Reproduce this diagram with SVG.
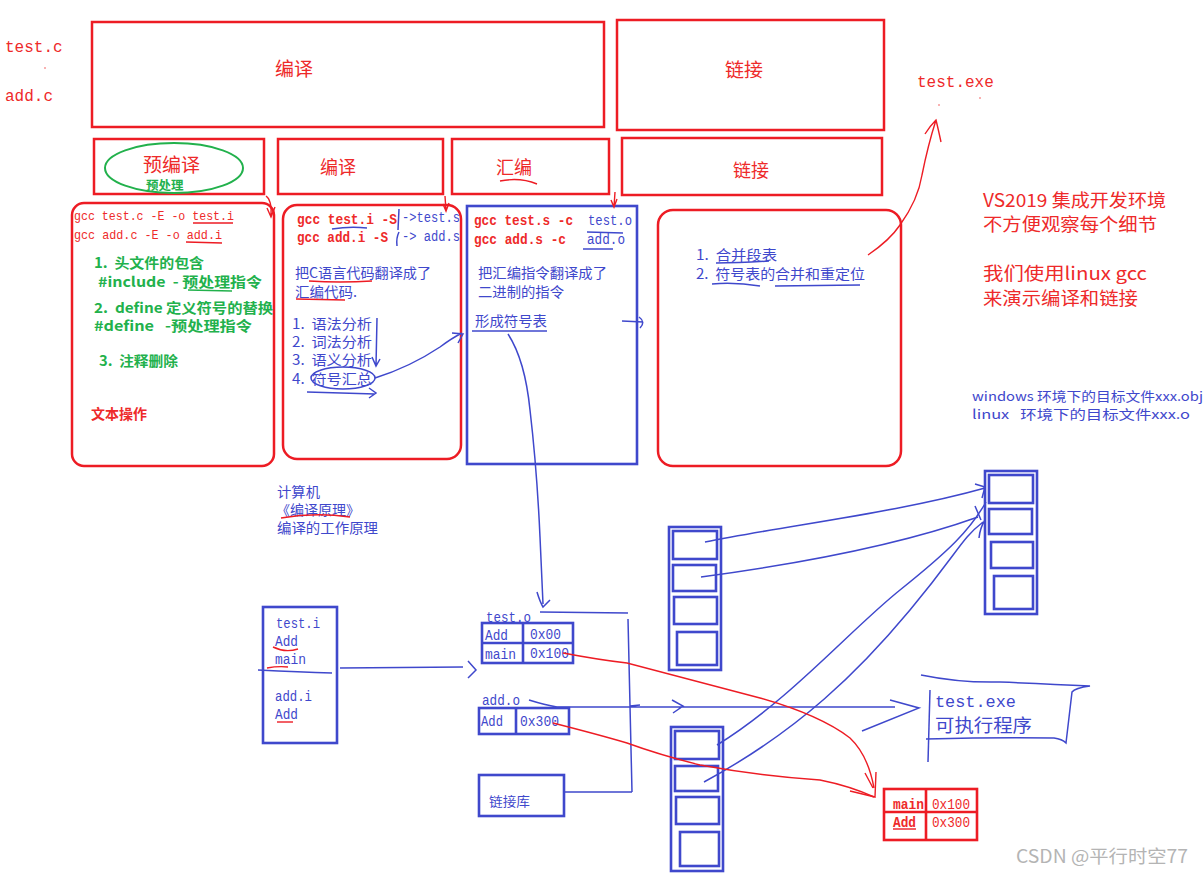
<svg xmlns="http://www.w3.org/2000/svg" width="1204" height="875" viewBox="0 0 1204 875">
<style>
.r{stroke:#ed1c24;fill:none;stroke-width:2.5}
.rt{stroke:#ed1c24;fill:none;stroke-width:1.4}
.b{stroke:#3f48cc;fill:none;stroke-width:2.6}
.bt{stroke:#3f48cc;fill:none;stroke-width:1.5}
.gt{stroke:#22b14c;fill:none;stroke-width:1.5}
text{font-family:"Noto Sans CJK SC",sans-serif;white-space:pre}
.m{font-family:"Liberation Mono","Noto Sans CJK SC",monospace}
.tr{fill:#ee2a2a}
.tb{fill:#3f48cc}
.tg{fill:#22b14c;font-weight:bold}
</style>
<rect width="1204" height="875" fill="#fff"/>

<g id="inputs">
<text class="m tr" x="5" y="52" font-size="16">test.c</text>
<circle cx="45" cy="68" r="0.7" fill="#ee2a2a"/>
<text class="m tr" x="5" y="101" font-size="16">add.c</text>
</g>

<g id="stage-compile">
<rect class="r" x="92" y="22" width="512" height="105"/>
<text class="tr" x="275" y="76" font-size="19">编译</text>
</g>
<g id="stage-link">
<rect class="r" x="617" y="20" width="267" height="110"/>
<text class="tr" x="725" y="77" font-size="19">链接</text>
</g>
<g id="exe-top">
<text class="m tr" x="917" y="87" font-size="16">test.exe</text>
<circle cx="939" cy="105" r="0.7" fill="#ee2a2a"/>
<circle cx="980" cy="98" r="0.7" fill="#ee2a2a"/>
</g>

<g id="pre">
<rect class="r" x="94" y="139" width="170" height="55"/>
<ellipse cx="174" cy="168" rx="69" ry="25" fill="none" stroke="#22b14c" stroke-width="2"/>
<text class="tr" x="143" y="172" font-size="19">预编译</text>
<text class="tg" x="146" y="190" font-size="12.5">预处理</text>
</g>
<g id="comp">
<rect class="r" x="278" y="139" width="165" height="55"/>
<text class="tr" x="320" y="174" font-size="18">编译</text>
</g>
<g id="asm">
<rect class="r" x="452" y="139" width="157" height="55"/>
<text class="tr" x="496" y="174" font-size="18">汇编</text>
<path class="rt" d="M500,181 Q520,177 537,184"/>
</g>
<g id="lnk">
<rect class="r" x="622" y="138" width="260" height="57"/>
<text class="tr" x="733" y="177" font-size="18">链接</text>
</g>

<g id="box-pre">
<rect class="r" x="72" y="203" width="202" height="263" rx="12"/>
<text class="m tr" x="74" y="220" font-size="13" textLength="160" lengthAdjust="spacingAndGlyphs">gcc test.c -E -o test.i</text>
<text class="m tr" x="74" y="239" font-size="13" textLength="148" lengthAdjust="spacingAndGlyphs">gcc add.c -E -o add.i</text>
<path class="rt" d="M193,223 L233,223 M186,242 L222,243"/>
<text class="tg" x="94" y="268" font-size="14" textLength="110" lengthAdjust="spacingAndGlyphs" xml:space="preserve">1.  头文件的包含</text>
<text class="tg" x="98" y="287" font-size="14" textLength="164" lengthAdjust="spacingAndGlyphs" xml:space="preserve">#include  - 预处理指令</text>
<path class="gt" d="M188,290 L232,291"/>
<text class="tg" x="94" y="313" font-size="14" textLength="179" lengthAdjust="spacingAndGlyphs" xml:space="preserve">2.  define 定义符号的替换</text>
<text class="tg" x="94" y="331" font-size="14" textLength="158" lengthAdjust="spacingAndGlyphs" xml:space="preserve">#define   -预处理指令</text>
<text class="tg" x="99" y="366" font-size="14" textLength="79" lengthAdjust="spacingAndGlyphs" xml:space="preserve">3.  注释删除</text>
<text x="91" y="419" font-size="14" font-weight="bold" fill="#ee2a2a" textLength="56" lengthAdjust="spacingAndGlyphs">文本操作</text>
</g>

<g id="box-comp">
<rect class="r" x="283" y="205" width="178" height="254" rx="14"/>
<text class="m tr" x="297" y="224" font-size="14" font-weight="bold" textLength="100" lengthAdjust="spacingAndGlyphs">gcc test.i -S</text>
<text class="m tr" x="297" y="242" font-size="14" font-weight="bold" textLength="91" lengthAdjust="spacingAndGlyphs">gcc add.i -S</text>
<path class="bt" d="M332,229 Q350,226 367,228"/>
<path class="bt" d="M399,209 L398,230 M399,232 Q396,238 397,246"/>
<text class="m tb" x="402" y="222" font-size="14" textLength="58" lengthAdjust="spacingAndGlyphs">-&gt;test.s</text>
<text class="m tb" x="402" y="241" font-size="14" textLength="58" lengthAdjust="spacingAndGlyphs" xml:space="preserve">-&gt; add.s</text>
<text class="tb" x="295" y="278" font-size="14" textLength="136" lengthAdjust="spacingAndGlyphs">把C语言代码翻译成了</text>
<path class="rt" d="M309,281 Q340,283 372,281"/>
<text class="tb" x="295" y="297" font-size="14" textLength="62" lengthAdjust="spacingAndGlyphs">汇编代码.</text>
<path class="rt" d="M296,299 L345,300"/>
<text class="tb" x="292" y="329" font-size="14" textLength="80" lengthAdjust="spacingAndGlyphs" xml:space="preserve">1.  语法分析</text>
<text class="tb" x="292" y="347" font-size="14" textLength="80" lengthAdjust="spacingAndGlyphs" xml:space="preserve">2.  词法分析</text>
<text class="tb" x="292" y="365" font-size="14" textLength="80" lengthAdjust="spacingAndGlyphs" xml:space="preserve">3.  语义分析</text>
<text class="tb" x="292" y="384" font-size="14" textLength="80" lengthAdjust="spacingAndGlyphs" xml:space="preserve">4.  符号汇总</text>
<ellipse cx="343" cy="378" rx="32" ry="11" class="bt" stroke-width="2"/>
<path class="bt" d="M377,318 L376,366 M372,357 L376,366 L380,359"/>
<path class="bt" d="M307,392 L375,394 M369,388 L376,393 L369,398"/>
</g>

<g id="box-asm">
<rect class="b" x="467" y="206" width="170" height="258"/>
<text class="m tr" x="474" y="225" font-size="14" font-weight="bold" textLength="99" lengthAdjust="spacingAndGlyphs">gcc test.s -c</text>
<text class="m tb" x="588" y="225" font-size="14" textLength="44" lengthAdjust="spacingAndGlyphs">test.o</text>
<path class="bt" d="M587,232 L623,233"/>
<text class="m tr" x="474" y="244" font-size="14" font-weight="bold" textLength="92" lengthAdjust="spacingAndGlyphs">gcc add.s -c</text>
<text class="m tb" x="587" y="244" font-size="14" textLength="38" lengthAdjust="spacingAndGlyphs">add.o</text>
<path class="bt" d="M583,249 L613,249"/>
<text class="tb" x="478" y="278" font-size="14" textLength="129" lengthAdjust="spacingAndGlyphs">把汇编指令翻译成了</text>
<text class="tb" x="478" y="297" font-size="14" textLength="86" lengthAdjust="spacingAndGlyphs">二进制的指令</text>
<text class="tb" x="475" y="326" font-size="14" textLength="72" lengthAdjust="spacingAndGlyphs">形成符号表</text>
<path class="bt" d="M472,331 L547,331"/>
</g>

<g id="box-link">
<rect class="r" x="658" y="210" width="243" height="256" rx="15"/>
<text class="tb" x="696" y="260" font-size="14" textLength="81" lengthAdjust="spacingAndGlyphs" xml:space="preserve">1.  合并段表</text>
<text class="tb" x="696" y="279" font-size="14" textLength="169" lengthAdjust="spacingAndGlyphs" xml:space="preserve">2.  符号表的合并和重定位</text>
<path class="bt" d="M716,263 Q740,263 769,261 M712,284 Q735,282 760,286 M775,286 L860,285"/>
</g>

<g id="notes-red">
<text class="tr" x="983" y="207" font-size="18" textLength="183" lengthAdjust="spacingAndGlyphs">VS2019 集成开发环境</text>
<text class="tr" x="983" y="231" font-size="18" textLength="174" lengthAdjust="spacingAndGlyphs">不方便观察每个细节</text>
<text class="tr" x="983" y="280" font-size="18" textLength="164" lengthAdjust="spacingAndGlyphs">我们使用linux gcc</text>
<text class="tr" x="983" y="305" font-size="18" textLength="155" lengthAdjust="spacingAndGlyphs">来演示编译和链接</text>
</g>
<g id="notes-blue">
<text class="tb" x="972" y="401" font-size="13" textLength="231" lengthAdjust="spacingAndGlyphs" xml:space="preserve">windows 环境下的目标文件xxx.obj</text>
<text class="tb" x="972" y="419" font-size="13" textLength="218" lengthAdjust="spacingAndGlyphs" xml:space="preserve">linux   环境下的目标文件xxx.o</text>
</g>
<g id="notes-book">
<text class="tb" x="277" y="497" font-size="14" textLength="43" lengthAdjust="spacingAndGlyphs">计算机</text>
<text class="tb" x="276" y="515" font-size="14" textLength="84" lengthAdjust="spacingAndGlyphs">《编译原理》</text>
<path class="rt" d="M281,518 Q315,512 350,517"/>
<text class="tb" x="277" y="533" font-size="14" textLength="101" lengthAdjust="spacingAndGlyphs">编译的工作原理</text>
</g>

<g id="src-i">
<rect class="b" x="263" y="607" width="74" height="136"/>
<text class="m tb" x="276" y="628" font-size="14" textLength="44" lengthAdjust="spacingAndGlyphs">test.i</text>
<text class="m tb" x="275" y="646" font-size="14" textLength="23" lengthAdjust="spacingAndGlyphs">Add</text>
<path class="rt" d="M273,647 Q285,653 298,649"/>
<text class="m tb" x="275" y="664" font-size="14" textLength="31" lengthAdjust="spacingAndGlyphs">main</text>
<path class="rt" d="M267,668 Q278,666 288,667"/>
<text class="m tb" x="275" y="701" font-size="14" textLength="37" lengthAdjust="spacingAndGlyphs">add.i</text>
<text class="m tb" x="275" y="719" font-size="14" textLength="23" lengthAdjust="spacingAndGlyphs">Add</text>
<path class="rt" d="M277,722 L293,722"/>
</g>

<g id="obj-test">
<text class="m tb" x="486" y="622" font-size="14" textLength="45" lengthAdjust="spacingAndGlyphs">test.o</text>
<rect class="b" x="482" y="623" width="91" height="40"/>
<path class="b" d="M482,643 L573,643 M523,623 L523,663"/>
<text class="m tb" x="485" y="640" font-size="14" textLength="23" lengthAdjust="spacingAndGlyphs">Add</text>
<text class="m tb" x="530" y="639" font-size="14" textLength="31" lengthAdjust="spacingAndGlyphs">0x00</text>
<text class="m tb" x="485" y="659" font-size="14" textLength="31" lengthAdjust="spacingAndGlyphs">main</text>
<text class="m tb" x="530" y="658" font-size="14" textLength="39" lengthAdjust="spacingAndGlyphs">0x100</text>
</g>
<g id="obj-add">
<text class="m tb" x="482" y="705" font-size="14" textLength="38" lengthAdjust="spacingAndGlyphs">add.o</text>
<rect class="b" x="479" y="708" width="90" height="26"/>
<path class="b" d="M516,708 L516,734"/>
<text class="m tb" x="481" y="726" font-size="14" textLength="22" lengthAdjust="spacingAndGlyphs">Add</text>
<text class="m tb" x="520" y="726" font-size="14" textLength="39" lengthAdjust="spacingAndGlyphs">0x300</text>
</g>
<g id="lib">
<rect class="b" x="479" y="775" width="85" height="41"/>
<text class="tb" x="489" y="806" font-size="13" textLength="41" lengthAdjust="spacingAndGlyphs">链接库</text>
</g>

<g id="col-a">
<rect class="b" x="669" y="527" width="52" height="143"/>
<rect class="b" x="673" y="531" width="44" height="28"/>
<rect class="b" x="673" y="565" width="43" height="26"/>
<rect class="b" x="674" y="597" width="43" height="27"/>
<rect class="b" x="677" y="632" width="40" height="33"/>
</g>
<g id="col-b">
<rect class="b" x="671" y="727" width="52" height="144"/>
<rect class="b" x="675" y="731" width="44" height="28"/>
<rect class="b" x="675" y="766" width="43" height="25"/>
<rect class="b" x="676" y="797" width="43" height="27"/>
<rect class="b" x="680" y="832" width="39" height="34"/>
</g>
<g id="col-c">
<rect class="b" x="985" y="471" width="52" height="143"/>
<rect class="b" x="989" y="475" width="44" height="28"/>
<rect class="b" x="989" y="509" width="43" height="25"/>
<rect class="b" x="991" y="542" width="42" height="26"/>
<rect class="b" x="994" y="576" width="39" height="33"/>
</g>

<g id="exe">
<path class="bt" d="M921,675 Q960,683 1000,682 Q1050,684 1090,686 Q1075,688 1072,692 L1066,743 Q1062,739 1054,738 Q1000,737 926,739"/>
<path class="bt" d="M930,690 L928,762"/>
<text class="m tb" x="935" y="707" font-size="16.5" textLength="81" lengthAdjust="spacingAndGlyphs">test.exe</text>
<text class="tb" x="935" y="732" font-size="18.5" textLength="97" lengthAdjust="spacingAndGlyphs">可执行程序</text>
</g>

<g id="symtab">
<rect x="884" y="789" width="93" height="51" fill="none" stroke="#ed1c24" stroke-width="2.6"/>
<path d="M884,812 L977,812 M926,789 L926,840" stroke="#ed1c24" stroke-width="2.6"/>
<text class="m tr" x="893" y="809" font-size="14" font-weight="bold" textLength="31" lengthAdjust="spacingAndGlyphs">main</text>
<text class="m tr" x="932" y="809" font-size="14" textLength="38" lengthAdjust="spacingAndGlyphs">0x100</text>
<text class="m tr" x="893" y="827" font-size="14" font-weight="bold" textLength="23" lengthAdjust="spacingAndGlyphs">Add</text>
<path class="rt" d="M893,829 L916,829"/>
<text class="m tr" x="932" y="827" font-size="14" textLength="38" lengthAdjust="spacingAndGlyphs">0x300</text>
</g>

<g id="connectors">
<path class="rt" d="M266,196 Q272,200 271,216 M267,208 L271,217 L275,207"/>
<path class="rt" d="M445,196 L446,211 M443,204 L446,211 L449,203"/>
<path class="rt" d="M615,192 L614,207 M611,200 L614,207 L617,199"/>
<path class="bt" d="M622,321 L643,322 M639,317 Q646,322 640,328"/>
<path class="bt" d="M375,378 Q410,367 440,347 Q452,338 462,333 M452,333 L463,334 L458,343"/>
<path class="rt" d="M868,255 Q890,240 900,225 Q918,200 922,175 Q928,145 936,120 M925,134 Q930,126 936,120 Q938,128 941,142"/>
<path class="bt" d="M508,334 Q525,360 530,410 Q537,470 540,537 L543,604 M537,592 Q540,602 543,607 Q547,603 550,600"/>
<path class="bt" d="M258,670 Q300,672 332,673"/>
<path class="bt" d="M340,668 L463,667 M468,661 L476,670 L468,678"/>
<path class="bt" d="M540,612 L628,613 M628,619 L632,792 M565,792 L632,792"/>
<path class="bt" d="M529,700 Q545,705 557,707 L895,707 M630,706 L640,705 M672,700 L683,706 L673,713 M890,700 L919,708 L862,731"/>
<path class="bt" d="M705,542 C790,525 900,512 985,488 M975,484 L985,487 L982,498"/>
<path class="bt" d="M701,577 C790,565 900,545 978,517 M975,506 L981,520"/>
<path class="bt" d="M717,745 C790,700 850,630 900,590 S970,530 986,502"/>
<path class="bt" d="M704,782 C800,730 860,670 910,610 S960,540 983,522 M979,538 Q980,528 985,520"/>
<path class="rt" d="M563,653 Q600,660 627,663 L760,698 Q820,715 850,738 Q868,755 874,788"/>
<path class="rt" d="M553,723 Q600,735 627,743 Q660,755 700,765 Q760,776 820,780 Q850,786 874,797"/>
<path class="rt" d="M865,773 L873,788 M876,772 L875,797 L850,791"/>
</g>

<text x="1016" y="863" font-size="18" fill="#b4b4b4" textLength="172" lengthAdjust="spacingAndGlyphs">CSDN @平行时空77</text>
</svg>
